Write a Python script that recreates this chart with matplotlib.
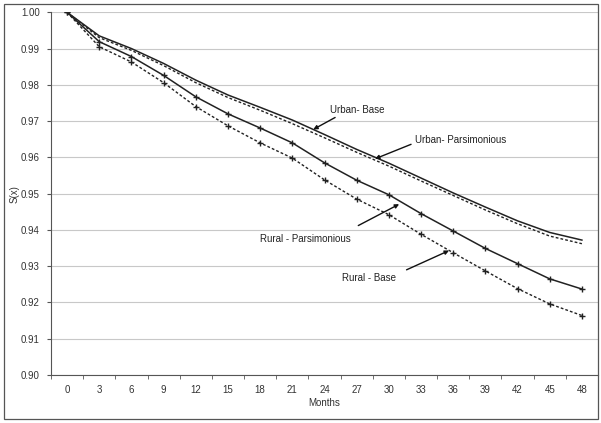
import matplotlib
matplotlib.use('Agg')
import matplotlib.pyplot as plt
from matplotlib.patches import Rectangle

plt.rcParams['font.family'] = ['Liberation Sans', 'DejaVu Sans']

months = [0, 3, 6, 9, 12, 15, 18, 21, 24, 27, 30, 33, 36, 39, 42, 45, 48]
urban_base = [1.000, 0.9935, 0.9900, 0.9859, 0.9813, 0.9772, 0.9738, 0.9703, 0.9663,
              0.9622, 0.9584, 0.9543, 0.9502, 0.9463, 0.9425, 0.9393, 0.9372]
urban_pars = [1.000, 0.9930, 0.9895, 0.9853, 0.9806, 0.9765, 0.9730, 0.9693, 0.9654,
              0.9614, 0.9576, 0.9535, 0.9495, 0.9455, 0.9417, 0.9383, 0.9362]
rural_pars = [1.000, 0.9919, 0.9878, 0.9826, 0.9767, 0.9720, 0.9681, 0.9640, 0.9585,
              0.9537, 0.9497, 0.9445, 0.9397, 0.9349, 0.9307, 0.9265, 0.9237]
rural_base = [1.000, 0.9905, 0.9863, 0.9806, 0.9740, 0.9687, 0.9640, 0.9598, 0.9538,
              0.9485, 0.9442, 0.9388, 0.9337, 0.9287, 0.9238, 0.9196, 0.9164]

fig = plt.figure(figsize=(6.01, 4.23), dpi=100)
fig.patches.append(Rectangle((4/601, 4/423), 594/601, 415/423, transform=fig.transFigure,
                             fill=False, edgecolor='#555555', linewidth=0.9))
ax = fig.add_axes([51/601, 48/423, 547/601, 362.7/423])

x = list(range(len(months)))
ax.plot(x, urban_base, color='#222222', lw=1.1, zorder=3)
ax.plot(x, urban_pars, color='#222222', lw=1.0, ls=(0, (2, 1.5)), zorder=3)
ax.plot(x, rural_pars, color='#222222', lw=1.1, marker='+', ms=5, mew=1.0, zorder=3)
ax.plot(x, rural_base, color='#222222', lw=1.0, ls=(0, (2, 1.5)), marker='+', ms=5, mew=1.0, zorder=3)

ax.set_xlim(-0.5, len(months) - 0.5)
ax.set_ylim(0.90, 1.00)
ax.set_yticks([0.90 + 0.01*i for i in range(11)])
ax.set_yticklabels(['%.2f' % (0.90 + 0.01*i) for i in range(11)])
ax.set_xticks(x)
ax.set_xticklabels([str(m) for m in months])
ax.set_xticks([i - 0.5 for i in range(len(months) + 1)], minor=True)
ax.tick_params(axis='x', which='major', length=0, pad=7, labelsize=7, colors='#333333')
ax.tick_params(axis='x', which='minor', length=3, direction='out', color='#555555')
ax.tick_params(axis='y', length=3, direction='out', labelsize=7, colors='#333333', color='#555555', pad=5)
ax.grid(axis='y', color='#c8c8c8', lw=0.8)
ax.set_axisbelow(True)
for s in ['top', 'right']:
    ax.spines[s].set_visible(False)
ax.spines['left'].set_color('#555555')
ax.spines['bottom'].set_color('#555555')

ax.set_xlabel('Months', fontsize=7, color='#333333', labelpad=2)
ax.set_ylabel('S(x)', fontsize=7, color='#333333', labelpad=1)

# labels with arrows (data coords)
arrow = dict(arrowstyle='-|>', color='#111111', lw=1.0, mutation_scale=6, shrinkA=0, shrinkB=0)
ax.annotate('', xy=(7.65, 0.9677), xytext=(8.33, 0.9710), arrowprops=arrow)
ax.text(8.17, 0.9731, 'Urban- Base', fontsize=7, ha='left', va='center', color='#222222')
ax.annotate('', xy=(9.57, 0.9596), xytext=(10.69, 0.9636), arrowprops=arrow)
ax.text(10.81, 0.9648, 'Urban- Parsimonious', fontsize=7, ha='left', va='center', color='#222222')
ax.annotate('', xy=(10.32, 0.9471), xytext=(9.05, 0.9412), arrowprops=arrow)
ax.text(8.82, 0.9375, 'Rural - Parsimonious', fontsize=7, ha='right', va='center', color='#222222')
ax.annotate('', xy=(11.87, 0.9343), xytext=(10.55, 0.9290), arrowprops=arrow)
ax.text(8.53, 0.9268, 'Rural - Base', fontsize=7, ha='left', va='center', color='#222222')

fig.savefig('out.png', dpi=100)
